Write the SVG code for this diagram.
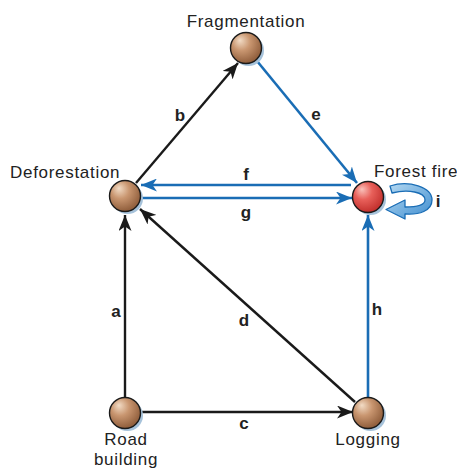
<svg xmlns="http://www.w3.org/2000/svg" width="457" height="468" viewBox="0 0 457 468">
<defs>
<radialGradient id="brown" cx="0.4" cy="0.35" r="0.65" fx="0.3" fy="0.25">
<stop offset="0" stop-color="#f2dcc6"/>
<stop offset="0.45" stop-color="#c99670"/>
<stop offset="1" stop-color="#8f5d3b"/>
</radialGradient>
<radialGradient id="red" cx="0.4" cy="0.35" r="0.65" fx="0.3" fy="0.25">
<stop offset="0" stop-color="#f9c2bb"/>
<stop offset="0.45" stop-color="#e8605a"/>
<stop offset="1" stop-color="#c2302d"/>
</radialGradient>
<linearGradient id="loop" x1="0" y1="0" x2="1" y2="1">
<stop offset="0" stop-color="#b8dbf3"/>
<stop offset="1" stop-color="#3c8ccf"/>
</linearGradient>
<marker id="ak" markerUnits="userSpaceOnUse" markerWidth="17" markerHeight="13" refX="16" refY="6.5" orient="auto">
<path d="M0,0 L16,6.5 L0,13 L4.5,6.5 Z" fill="#1a1a1a"/>
</marker>
<marker id="ab" markerUnits="userSpaceOnUse" markerWidth="17" markerHeight="13" refX="16" refY="6.5" orient="auto">
<path d="M0,0 L16,6.5 L0,13 L4.5,6.5 Z" fill="#1a6db5"/>
</marker>
</defs>
<style>
.k{stroke:#1a1a1a;stroke-width:2.4;fill:none;marker-end:url(#ak)}
.b{stroke:#1a6db5;stroke-width:2.6;fill:none;marker-end:url(#ab)}
.sh{fill:#a6c2da}
.ball{stroke:#1a1a1a;stroke-width:1.4}
.t{font-family:"Liberation Sans",Arial,sans-serif;font-size:17px;fill:#222;letter-spacing:0.7px}
.l{font-family:"Liberation Sans",Arial,sans-serif;font-size:17px;font-weight:bold;fill:#222;text-anchor:middle}
</style>
<g id="connectors">
<line class="k" x1="125" y1="397" x2="125" y2="215"/>
<line class="k" x1="136" y1="183" x2="238" y2="63"/>
<line class="b" x1="257" y1="61" x2="357" y2="183"/>
<line class="b" x1="351" y1="185" x2="141" y2="185"/>
<line class="b" x1="142" y1="198" x2="352" y2="198"/>
<line class="b" x1="368" y1="397" x2="368" y2="215"/>
<line class="k" x1="141" y1="412" x2="353" y2="412"/>
<line class="k" x1="355" y1="402" x2="140" y2="209"/>
<path id="loop-i" d="M390,186 C409,180 432,187 432,200 C432,211 419,215 405,214 L405,219 L386,209.5 L405,200 L405,207 C417,207 425,205 425,200 C425,192 408,189 392,193 Z" fill="url(#loop)" stroke="#1a6db5" stroke-width="1.3" stroke-linejoin="round"/>
<text class="l" x="116" y="317">a</text>
<text class="l" x="180" y="121">b</text>
<text class="l" x="244" y="429">c</text>
<text class="l" x="244" y="326">d</text>
<text class="l" x="316" y="120">e</text>
<text class="l" x="246" y="180">f</text>
<text class="l" x="246" y="218">g</text>
<text class="l" x="377" y="315">h</text>
<text class="l" x="438" y="207">i</text>
</g>
<g id="fragmentation">
<circle class="sh" cx="248.5" cy="50.5" r="15.5"/>
<circle class="ball" cx="246" cy="48" r="15.5" fill="url(#brown)"/>
<text class="t" x="246" y="27" text-anchor="middle">Fragmentation</text>
</g>
<g id="deforestation">
<circle class="sh" cx="127.5" cy="198.5" r="15.5"/>
<circle class="ball" cx="125" cy="196" r="15.5" fill="url(#brown)"/>
<text class="t" x="10" y="178">Deforestation</text>
</g>
<g id="forest-fire">
<circle class="sh" cx="370.5" cy="199.5" r="15.5"/>
<circle class="ball" cx="368" cy="197" r="15.5" fill="url(#red)"/>
<text class="t" x="374" y="177">Forest fire</text>
</g>
<g id="road-building">
<circle class="sh" cx="127.5" cy="415.5" r="15.5"/>
<circle class="ball" cx="125" cy="413" r="15.5" fill="url(#brown)"/>
<text class="t" x="126" y="445" text-anchor="middle">Road</text>
<text class="t" x="126" y="465" text-anchor="middle">building</text>
</g>
<g id="logging">
<circle class="sh" cx="370.5" cy="415.5" r="15.5"/>
<circle class="ball" cx="368" cy="413" r="15.5" fill="url(#brown)"/>
<text class="t" x="368" y="445" text-anchor="middle">Logging</text>
</g>
</svg>
